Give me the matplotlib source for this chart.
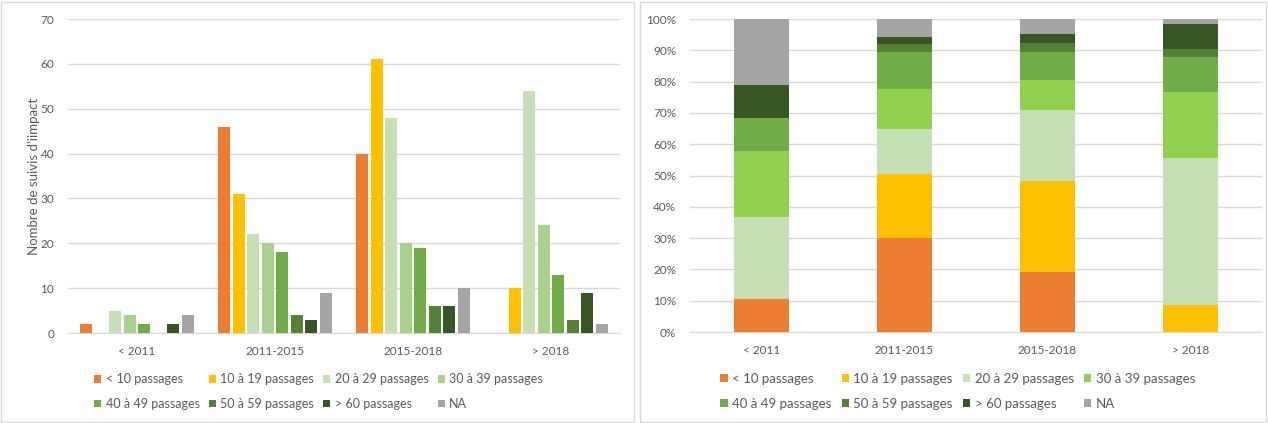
import matplotlib.pyplot as plt
import numpy as np
from matplotlib.patches import Rectangle

plt.rcParams['font.family'] = ['Lato', 'DejaVu Sans']

# Donnees
periodes = ['< 2011', '2011-2015', '2015-2018', '> 2018']
classes = ['< 10 passages', '10 à 19 passages', '20 à 29 passages', '30 à 39 passages',
           '40 à 49 passages', '50 à 59 passages', '> 60 passages', 'NA']
moins_10 = [2, 46, 40, 0]
p10_19 = [0, 31, 61, 10]
p20_29 = [5, 22, 48, 54]
p30_39 = [4, 20, 20, 24]
p40_49 = [2, 18, 19, 13]
p50_59 = [0, 4, 6, 3]
plus_60 = [2, 3, 6, 9]
na = [4, 9, 10, 2]

couleurs_gauche = ['#ED7D31', '#FFC000', '#C5E0B4', '#A9D18E', '#70AD47', '#548235', '#375623', '#A5A5A5']
couleurs_droite = ['#ED7D31', '#FFC000', '#C5E0B4', '#92D050', '#70AD47', '#548235', '#375623', '#A5A5A5']

series = np.array([moins_10, p10_19, p20_29, p30_39, p40_49, p50_59, plus_60, na], dtype=float)

W, H = 1268, 423
fig = plt.figure(figsize=(W / 100, H / 100), dpi=100)

# cadres des deux panneaux
for x0, x1 in [(1, 634), (640, 1266)]:
    fig.patches.append(Rectangle((x0 / W, 1 / H), (x1 - x0) / W, (H - 3) / H,
                                 transform=fig.transFigure, fill=False,
                                 edgecolor='#D9D9D9', linewidth=1))

gris = '#595959'
x = np.arange(len(periodes))

# Graphique de gauche : barres groupees
ax1 = fig.add_axes([68 / W, 1 - 333 / H, (620 - 68) / W, (333 - 19) / H])
pas = 0.105
larg = 0.085
handles1 = []
for i in range(len(classes)):
    b = ax1.bar(x + (i - 3.5) * pas, series[i], width=larg, color=couleurs_gauche[i],
                label=classes[i], zorder=3)
    handles1.append(b)
ax1.set_ylim(0, 70)
ax1.set_yticks(range(0, 71, 10))
ax1.set_xlim(-0.5, 3.5)
ax1.set_xticks(x)
ax1.set_xticklabels(periodes)
ax1.set_ylabel("Nombre de suivis d'iimpact", color=gris, fontsize=9.5, labelpad=0)
ax1.grid(axis='y', color='#D9D9D9', linewidth=1, zorder=0)

# Graphique de droite : barres empilees 100 %
ax2 = fig.add_axes([690 / W, 1 - 332 / H, (1262 - 690) / W, (332 - 19) / H])
pct = series / series.sum(axis=0) * 100
bas = np.zeros(len(periodes))
handles2 = []
for i in range(len(classes)):
    b = ax2.bar(x, pct[i], bottom=bas, width=0.39, color=couleurs_droite[i],
                label=classes[i], zorder=3)
    handles2.append(b)
    bas += pct[i]
ax2.set_ylim(0, 100)
ax2.set_yticks(range(0, 101, 10))
ax2.set_yticklabels([f'{v}%' for v in range(0, 101, 10)])
ax2.set_xlim(-0.5, 3.5)
ax2.set_xticks(x)
ax2.set_xticklabels(periodes)
ax2.grid(axis='y', color='#D9D9D9', linewidth=1, zorder=0)

for ax in [ax1, ax2]:
    for s in ['top', 'right', 'left']:
        ax.spines[s].set_visible(False)
    ax.spines['bottom'].set_color('#D9D9D9')
    ax.tick_params(axis='both', length=0, colors=gris, labelsize=8.5)
    ax.tick_params(axis='x', pad=9)
    ax.tick_params(axis='y', pad=10)

# legendes (ordre par ligne)
ordre = [0, 4, 1, 5, 2, 6, 3, 7]
for handles, cx, fs, esp in [(handles1, 97, 9, 0.75), (handles2, 723, 9.5, 0.75)]:
    h = [handles[k] for k in ordre]
    l = [classes[k] for k in ordre]
    fig.legend(h, l, loc='center left', bbox_to_anchor=(cx / W - 0.002, 1 - 391.5 / H),
               ncol=4, frameon=False, fontsize=fs, handlelength=0.55, handleheight=0.55,
               handletextpad=0.35, columnspacing=esp, labelspacing=1.0,
               labelcolor=gris, borderpad=0, borderaxespad=0)

fig.savefig('out.png', dpi=100)
